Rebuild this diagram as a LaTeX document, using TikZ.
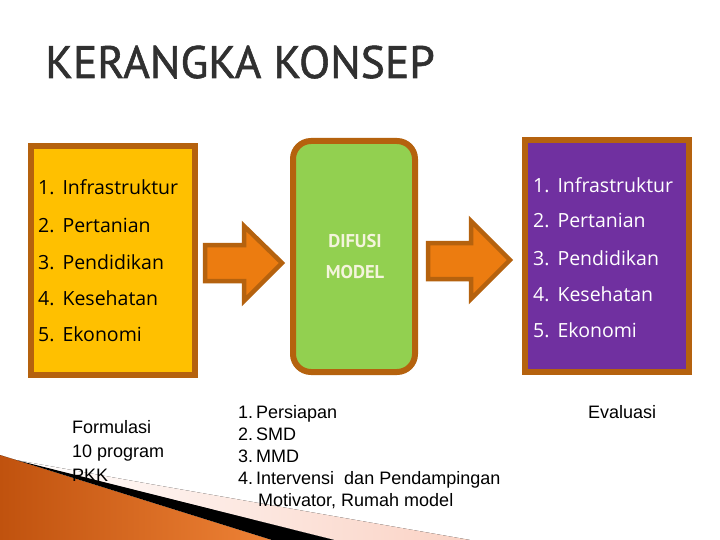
\documentclass[tikz,border=0pt]{standalone}
\usepackage{fontspec}
\setmainfont{Open Sans}
\newfontfamily\titlef[FakeBold=1.2]{PT Sans}
\newfontfamily\labelf{PT Sans}
\newfontfamily\arialf{Liberation Sans}
\definecolor{gold}{HTML}{FFC000}
\definecolor{rim}{HTML}{B5620E}
\definecolor{lgreen}{HTML}{92D050}
\definecolor{purp}{HTML}{7030A0}
\definecolor{arrowor}{HTML}{EC7C10}
\definecolor{titlegray}{HTML}{303030}
\definecolor{cream}{HTML}{F4F4DC}
\definecolor{pinkish}{HTML}{FAD2C4}
\definecolor{darkor}{HTML}{C0520E}
\definecolor{lightor}{HTML}{EE8236}
\tikzset{
  boxitem/.style={anchor=base west, inner sep=0pt, font=\fontsize{19.5}{24}\selectfont},
  panel/.style={draw=rim, line width=6pt, inner sep=0pt},
  blockarrow/.style={draw=rim, fill=arrowor, line width=4.5pt, line join=miter},
  plain/.style={anchor=base west, inner sep=0pt, font=\arialf\fontsize{18}{22}\selectfont}
}
\newcommand{\itm}[2]{#1.\hspace{8pt}#2}
\begin{document}
\begin{tikzpicture}[x=1pt,y=-1pt]
\useasboundingbox (0,0) rectangle (720,540);
\fill[white] (0,0) rectangle (720,540);

% bottom-left decoration
\fill[left color=white, right color=pinkish] (150,484) -- (470,540) -- (335,540) -- (10,459) -- cycle;
\shade[left color=darkor, right color=lightor] (0,455) -- (272,540) -- (0,540) -- cycle;
\fill[black] (16,460) -- (334,540) -- (272,540) -- (0,455) -- cycle;

% title
\node[anchor=base west, inner sep=0pt, text=titlegray, font=\titlef\fontsize{45.5}{50}\selectfont] (title) at (45,78) {KERANGKA KONSEP};

% panels
\node[panel, fill=gold, minimum width=164pt, minimum height=229pt] (left) at (113,260.5) {};
\node[panel, fill=lgreen, rounded corners=18pt, minimum width=122pt, minimum height=231pt] (mid) at (354,256.5) {};
\node[panel, fill=purp, minimum width=164pt, minimum height=232pt] (right) at (607,256) {};

% block arrows
\draw[blockarrow] (205,245) -- (244,245) -- (244,226) -- (282,263) -- (244,301) -- (244,281) -- (205,281) -- cycle;
\draw[blockarrow] (428,243) -- (471,243) -- (471,221) -- (510,260) -- (471,299) -- (471,279) -- (428,279) -- cycle;

% left items
\node[boxitem] (l1) at (38,195) {\itm{1}{Infrastruktur}};
\node[boxitem] (l2) at (38,233) {\itm{2}{Pertanian}};
\node[boxitem] (l3) at (38,269) {\itm{3}{Pendidikan}};
\node[boxitem] (l4) at (38,305) {\itm{4}{Kesehatan}};
\node[boxitem] (l5) at (38,341) {\itm{5}{Ekonomi}};

% right items
\node[boxitem, text=white] (r1) at (533,193) {\itm{1}{Infrastruktur}};
\node[boxitem, text=white] (r2) at (533,228) {\itm{2}{Pertanian}};
\node[boxitem, text=white] (r3) at (533,265) {\itm{3}{Pendidikan}};
\node[boxitem, text=white] (r4) at (533,301) {\itm{4}{Kesehatan}};
\node[boxitem, text=white] (r5) at (533,337) {\itm{5}{Ekonomi}};

% middle label
\node[inner sep=0pt, text=cream, font=\labelf\bfseries\fontsize{18.5}{20}\selectfont] (m1) at (355,241) {DIFUSI};
\node[inner sep=0pt, text=cream, font=\labelf\bfseries\fontsize{18.5}{20}\selectfont] (m2) at (355,272) {MODEL};

% bottom texts
\node[plain] (f1) at (72,433) {Formulasi};
\node[plain] (f2) at (72,457) {10 program};
\node[plain] (f3) at (72,481) {PKK};

\node[plain] (p1) at (238,418) {1.\,Persiapan};
\node[plain] (p2) at (238,440) {2.\,SMD};
\node[plain] (p3) at (238,462) {3.\,MMD};
\node[plain] (p4) at (238,484) {4.\,Intervensi\ \ dan Pendampingan};
\node[plain] (p5) at (258,506) {Motivator, Rumah model};

\node[plain] (ev) at (588,418) {Evaluasi};
\end{tikzpicture}
\end{document}
